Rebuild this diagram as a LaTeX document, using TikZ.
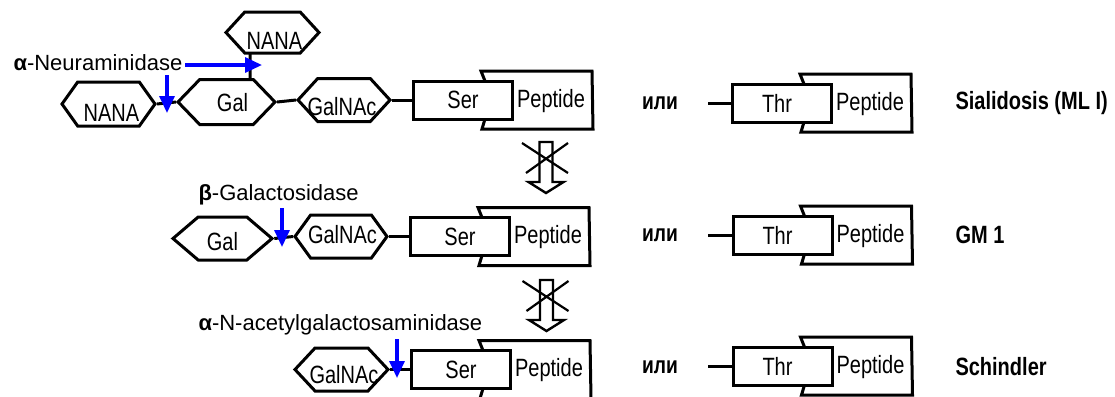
\documentclass[tikz,border=0pt]{standalone}
\usepackage{fontspec}
\setmainfont{Liberation Sans}
\newfontfamily\narrowsans{Liberation Sans}[FakeStretch=0.8]
\usetikzlibrary{shapes.symbols,arrows.meta,calc}
% label inside a sugar hexagon: horizontal shift, vertical shift, text
\newcommand\hexlabel[3]{\smash{\raisebox{-\dimexpr #2bp+9bp\relax}{\makebox[0pt]{\kern#1bp\kern#1bp #3}}}}
\begin{document}
\begin{tikzpicture}[x=1bp,y=-1bp,line width=3bp,line join=miter,
  sugar/.style args={#1/#2/#3}{shape=signal,signal to=west and east,
    signal pointer angle=#3,draw,fill=white,inner sep=0pt,line width=3bp,
    minimum width=#1bp,minimum height=#2bp,
    font=\narrowsans\fontsize{25bp}{30bp}\selectfont},
  aabox/.style={draw,fill=white,inner sep=0pt,line width=3bp,minimum width=99bp,
    minimum height=38bp,font=\narrowsans\fontsize{25bp}{30bp}\selectfont},
  pepword/.style={inner sep=0pt,font=\narrowsans\fontsize{25bp}{30bp}\selectfont},
  orword/.style={inner sep=0pt,font=\narrowsans\bfseries\fontsize{24bp}{28bp}\selectfont},
  disease/.style={inner sep=0pt,anchor=west,font=\narrowsans\bfseries\fontsize{25bp}{30bp}\selectfont},
  enzyme/.style={inner sep=0pt,anchor=west,font=\fontsize{22bp}{26bp}\selectfont},
  cut/.style={draw=blue,line width=3.2bp,-{Triangle[length=17bp,width=15bp]}},
  bond/.style={line width=3bp},
  pics/residue/.style={code={
    % peptide chain outline, partly hidden behind the amino-acid box
    \draw[line width=3bp] (22,-19) -- (18,-29) -- (129,-29) -- (130,29) -- (19,29) -- (22,19);
    \node[aabox] (-box) at (0,0) {#1};
    \node[pepword] (-pep) at (88,1) {Peptide};
  }},
  pics/blocked/.style={code={
    % hollow down arrow, crossed out
    \draw[line width=2.4bp,fill=white] (-6.5,0) -- (6.5,0) -- (6.5,40) -- (17.5,40)
      -- (0,51) -- (-17.5,40) -- (-6.5,40) -- cycle;
    \draw[line width=2.2bp] (-24,1) -- (22,31) (22,1) -- (-20,31);
  }}
]
\useasboundingbox (0,0) rectangle (1115,396);
\clip (0,0) rectangle (1115,396);

% ---------- row 1 : NANA-Gal(NANA)-GalNAc-Ser ----------
\node[sugar=93/44/109] (nanaL) at (108.5,104) {\hexlabel{3}{8}{NANA}};
\node[sugar=97/45/92] (gal1) at (226.5,102) {\hexlabel{6}{0}{Gal}};
\node[sugar=93/41/95] (nanaT) at (272.5,32.5) {\hexlabel{2}{8}{NANA}};
\node[sugar=92/43/95] (galnac1) at (344,100) {\hexlabel{-2}{6}{GalNAc}};
\pic (ser1) at (463,100) {residue=Ser};
% branch bond from the upper corner of Gal to the lower edge of the upper NANA
\coordinate (g1tr) at ($(gal1.center)+(23.5,-22.5)$);
\coordinate (n1bl) at ($(nanaT.center)+(-22.5,20.5)$);
\draw[bond] (nanaL.east) -- (gal1.west);
\draw[bond] (g1tr) -- (n1bl);
\draw[bond] (gal1.east) -- (galnac1.west);
\draw[bond] (galnac1.east) -- (ser1-box.west);

\node[enzyme] (neur) at (12,63) {\textbf{α}-Neuraminidase};
\coordinate (c1a) at (185,65);
\coordinate (c1b) at (262,65);
\coordinate (c2a) at (167,75);
\coordinate (c2b) at (167,113);
\draw[cut] (c1a) -- (c1b);
\draw[cut] (c2a) -- (c2b);

\node[orword] (or1) at (660,103) {или};
\pic (thr1) at (782,103) {residue=\kern-10bp Thr};
\coordinate (t1) at (708,103);
\draw[bond] (t1) -- (thr1-box.west);
\node[disease] (dis1) at (954,103) {Sialidosis (ML I)};

\pic (stop1) at (546,142) {blocked};

% ---------- row 2 : Gal-GalNAc-Ser ----------
\node[sugar=99/43/81] (gal2) at (222.5,238.5) {\hexlabel{0}{2.5}{Gal}};
\node[sugar=92/43/108] (galnac2) at (341,236.5) {\hexlabel{1.5}{-2.5}{GalNAc}};
\pic (ser2) at (460,236.5) {residue=Ser};
\draw[bond] (gal2.east) -- (galnac2.west);
\draw[bond] (galnac2.east) -- (ser2-box.west);

\node[enzyme] (bgal) at (197,195) {\textbf{β}-Galactosidase};
\coordinate (c3a) at (282,208);
\coordinate (c3b) at (282,247);
\draw[cut] (c3a) -- (c3b);

\node[orword] (or2) at (660,235) {или};
\pic (thr2) at (782.5,235) {residue=\kern-10bp Thr};
\coordinate (t2) at (708,235);
\draw[bond] (t2) -- (thr2-box.west);
\node[disease] (dis2) at (954,235) {GM 1};

\pic (stop2) at (546.5,280) {blocked};

% ---------- row 3 : GalNAc-Ser ----------
\node[sugar=93/43/94] (galnac3) at (341.5,369.5) {\hexlabel{2.5}{4.5}{GalNAc}};
\pic (ser3) at (461,369.5) {residue=Ser};
\draw[bond] (galnac3.east) -- (ser3-box.west);

\node[enzyme] (agal) at (197,325) {\textbf{α}-N-acetylgalactosaminidase};
\coordinate (c4a) at (397,339);
\coordinate (c4b) at (397,378);
\draw[cut] (c4a) -- (c4b);

\node[orword] (or3) at (660,367) {или};
\pic (thr3) at (782.5,366) {residue=\kern-10bp Thr};
\coordinate (t3) at (708,366);
\draw[bond] (t3) -- (thr3-box.west);
\node[disease] (dis3) at (954,367) {Schindler};
\end{tikzpicture}
\end{document}
